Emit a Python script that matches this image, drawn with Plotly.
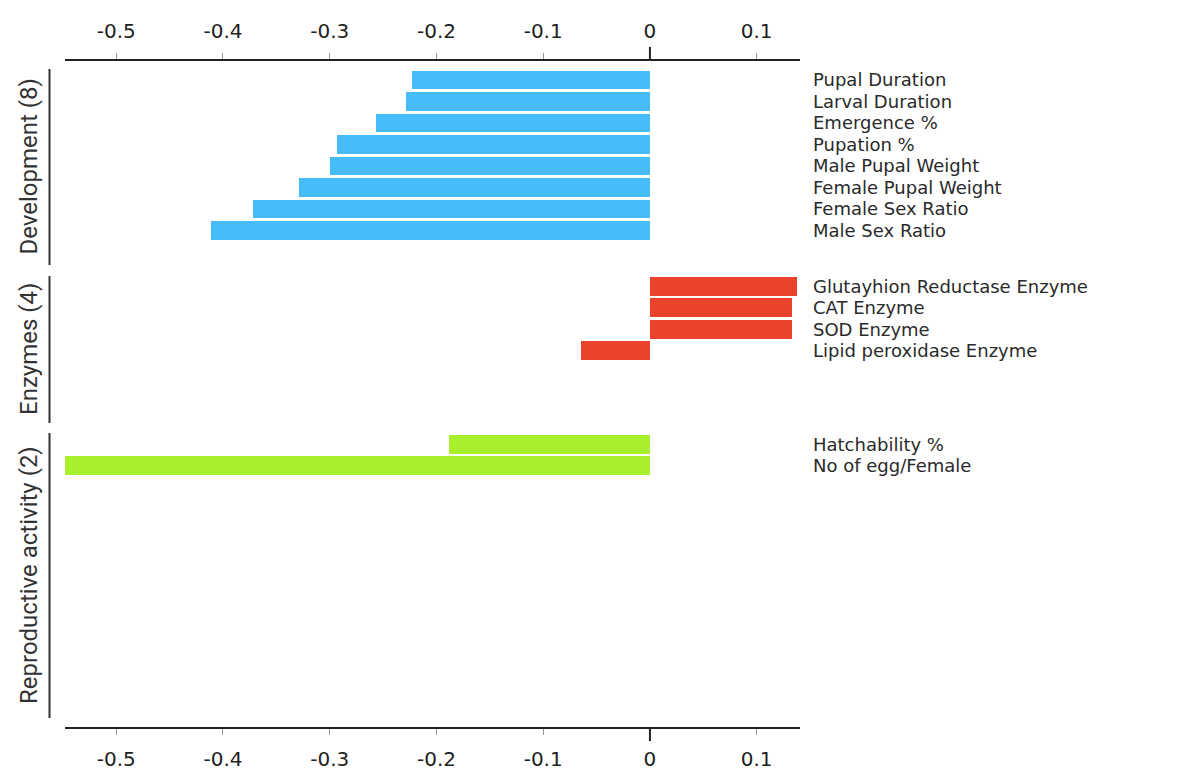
import plotly.graph_objects as go

# ---------------- data ----------------
dev_labels = ["Pupal Duration", "Larval Duration", "Emergence %", "Pupation %",
              "Male Pupal Weight", "Female Pupal Weight", "Female Sex Ratio", "Male Sex Ratio"]
dev_values = [-0.223, -0.229, -0.257, -0.293, -0.300, -0.329, -0.372, -0.411]

enz_labels = ["Glutayhion Reductase Enzyme", "CAT Enzyme", "SOD Enzyme", "Lipid peroxidase Enzyme"]
enz_values = [0.138, 0.133, 0.133, -0.065]

rep_labels = ["Hatchability %", "No of egg/Female"]
rep_values = [-0.188, -0.550]

group_titles = ["Development (8)", "Enzymes (4)", "Reproductive activity (2)"]

tick_vals = [-0.5, -0.4, -0.3, -0.2, -0.1, 0, 0.1]
tick_text = ["-0.5", "-0.4", "-0.3", "-0.2", "-0.1", "0", "0.1"]

colors = ["#45BCF7", "#EA432C", "#A8F02B"]

# ---------------- figure ----------------
OFF = 8  # page body margin offset
W, H = 1183 - 2 * OFF, 772 - OFF
plot_left, plot_right, plot_top, plot_bottom = 65 - OFF, 800 - OFF, 60 - OFF, 728 - OFF
ml, mr, mt, mb = plot_left, W - plot_right, plot_top, H - plot_bottom
plot_h = plot_bottom - plot_top
plot_w = plot_right - plot_left

fig = go.Figure()
fig.add_trace(go.Bar(x=dev_values, y=dev_labels, orientation="h", width=0.87,
                     marker=dict(color=colors[0], line=dict(width=0)),
                     xaxis="x2", yaxis="y", showlegend=False))
fig.add_trace(go.Bar(x=enz_values, y=enz_labels, orientation="h", width=0.87,
                     marker=dict(color=colors[1], line=dict(width=0)),
                     xaxis="x", yaxis="y2", showlegend=False))
fig.add_trace(go.Bar(x=rep_values, y=rep_labels, orientation="h", width=0.87,
                     marker=dict(color=colors[2], line=dict(width=0)),
                     xaxis="x", yaxis="y3", showlegend=False))

tick_font = dict(family="DejaVu Sans", size=20, color="#1e1e1e")
label_font = dict(family="DejaVu Sans", size=18, color="#2a2a2a")

xcommon = dict(range=[-0.548, 0.1406], tickmode="array", tickvals=tick_vals, ticktext=tick_text,
               showgrid=False, zeroline=False, showline=True, linecolor="#222222",
               linewidth=2, ticks="outside", ticklen=6, tickcolor="#9a9a9a", tickwidth=1,
               tickfont=tick_font, fixedrange=True, automargin=False)

fig.update_layout(
    template="plotly_white",
    width=W, height=H,
    margin=dict(l=ml, r=mr, t=mt, b=mb, autoexpand=False),
    paper_bgcolor="white", plot_bgcolor="white",
    bargap=0,
    xaxis=dict(anchor="free", position=0, side="bottom", domain=[0, 1],
               ticklabelstandoff=7, **xcommon),
    xaxis2=dict(anchor="free", position=1, side="top", domain=[0, 1], matches="x",
                ticklabelstandoff=7, **xcommon),
)

def px2y(p):
    return (plot_bottom - (p - OFF)) / plot_h

row_px = 21.5
panels = [
    ("yaxis", 69, 265, 80.0, dev_labels, "x2"),
    ("yaxis2", 276, 423, 286.2, enz_labels, "x"),
    ("yaxis3", 433, 718, 444.2, rep_labels, "x"),
]
for name, top, bot, first_c, labs, anc in panels:
    off = (first_c - top) / row_px
    span = (bot - top) / row_px
    fig.layout[name] = dict(
        domain=[px2y(bot), px2y(top)], anchor=anc, side="right", type="category",
        categoryorder="array", categoryarray=labs,
        tickmode="array", tickvals=labs, ticktext=labs,
        range=[span - off, -off], showgrid=False, zeroline=False, showline=False,
        ticks="", tickfont=label_font, ticklabelstandoff=12, fixedrange=True,
        automargin=False,
    )

# bracket lines and group titles on the left
bx = (49.5 - OFF - plot_left) / plot_w
tx = (28.5 - OFF - plot_left) / plot_w
yrefs = ["y domain", "y2 domain", "y3 domain"]
for yr, title in zip(yrefs, group_titles):
    fig.add_shape(type="line", xref="paper", yref=yr, x0=bx, x1=bx, y0=0, y1=1,
                  line=dict(color="#333333", width=2))
    fig.add_annotation(xref="paper", yref=yr, x=tx, y=0.5, text=title, showarrow=False,
                       textangle=-90, xanchor="center", yanchor="middle",
                       font=dict(family="Roboto", size=24, color="#333333"))

# emphasised zero ticks on the top and bottom axes
zl = 13 / plot_h
fig.add_shape(type="line", xref="x", yref="paper", x0=0, x1=0, y0=1, y1=1 + zl,
              line=dict(color="#222222", width=2))
fig.add_shape(type="line", xref="x", yref="paper", x0=0, x1=0, y0=0, y1=-zl,
              line=dict(color="#222222", width=2))

fig.write_html("out.html")
